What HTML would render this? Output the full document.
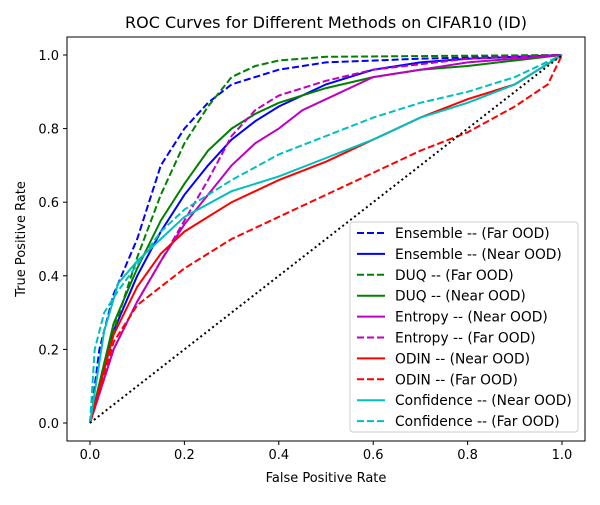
<!DOCTYPE html>
<html><head><meta charset="utf-8"><style>
body{margin:0;background:#fff}
svg text{font-family:"DejaVu Sans","Liberation Sans",sans-serif;fill:#000}
</style></head><body>
<svg id="c" width="600" height="500" xmlns="http://www.w3.org/2000/svg">
<rect width="600" height="500" fill="#fff"/>
<text x="326" y="28" font-size="16" text-anchor="middle">ROC Curves for Different Methods on CIFAR10 (ID)</text>
<g id="plot"></g>
<rect x="67" y="37" width="518" height="404" fill="none" stroke="#000" stroke-width="1"/>
<text x="326" y="482" font-size="13" text-anchor="middle">False Positive Rate</text>
<text x="25" y="239" font-size="13" text-anchor="middle" transform="rotate(-90 25 239)">True Positive Rate</text>
<g id="legend"></g>
</svg>
<script>
const xTicks=[0,0.2,0.4,0.6,0.8,1.0];
const yTicks=[0,0.2,0.4,0.6,0.8,1.0];
const tickLabels=["0.0","0.2","0.4","0.6","0.8","1.0"];
const seriesNames=["Ensemble -- (Far OOD)","Ensemble -- (Near OOD)","DUQ -- (Far OOD)","DUQ -- (Near OOD)","Entropy -- (Near OOD)","Entropy -- (Far OOD)","ODIN -- (Near OOD)","ODIN -- (Far OOD)","Confidence -- (Near OOD)","Confidence -- (Far OOD)"];
const seriesColors=["#0000ff","#0000ff","#008000","#008000","#bf00bf","#bf00bf","#ff0000","#ff0000","#00bfbf","#00bfbf"];
const seriesDashed=[true,false,true,false,false,true,false,true,false,true];
const ensFarX=[0,0.02,0.05,0.1,0.15,0.2,0.25,0.3,0.4,0.5,0.7,1];
const ensFarY=[0,0.2,0.35,0.5,0.7,0.8,0.87,0.92,0.96,0.98,0.99,1];
const ensNearX=[0,0.05,0.1,0.15,0.2,0.25,0.3,0.35,0.4,0.5,0.6,0.7,0.8,1];
const ensNearY=[0,0.25,0.4,0.52,0.62,0.7,0.77,0.82,0.86,0.92,0.96,0.98,0.99,1];
const duqFarX=[0,0.05,0.1,0.15,0.2,0.25,0.3,0.35,0.4,0.5,1];
const duqFarY=[0,0.25,0.45,0.62,0.76,0.86,0.94,0.97,0.985,0.995,1];
const duqNearX=[0,0.05,0.1,0.15,0.2,0.25,0.3,0.35,0.4,0.5,0.6,0.7,0.8,0.9,1];
const duqNearY=[0,0.27,0.42,0.55,0.65,0.74,0.8,0.84,0.87,0.91,0.94,0.96,0.97,0.985,1];
const entNearX=[0,0.05,0.1,0.15,0.2,0.25,0.3,0.35,0.4,0.45,0.5,0.6,0.7,0.8,1];
const entNearY=[0,0.2,0.33,0.44,0.54,0.62,0.7,0.76,0.8,0.85,0.88,0.94,0.96,0.98,1];
const entFarX=[0,0.05,0.1,0.15,0.2,0.25,0.3,0.35,0.4,0.5,0.6,0.8,1];
const entFarY=[0,0.2,0.33,0.44,0.55,0.66,0.78,0.85,0.89,0.93,0.96,0.99,1];
const odinNearX=[0,0.05,0.1,0.15,0.2,0.3,0.4,0.5,0.6,0.7,0.8,0.9,1];
const odinNearY=[0,0.24,0.37,0.46,0.52,0.6,0.66,0.71,0.77,0.83,0.88,0.92,1];
const odinFarX=[0,0.05,0.1,0.15,0.2,0.3,0.4,0.5,0.6,0.7,0.8,0.9,0.97,1];
const odinFarY=[0,0.22,0.32,0.37,0.42,0.5,0.56,0.62,0.68,0.74,0.79,0.86,0.92,1];
const confNearX=[0,0.03,0.06,0.1,0.15,0.2,0.3,0.4,0.5,0.6,0.7,0.8,0.9,1];
const confNearY=[0,0.25,0.38,0.44,0.5,0.56,0.63,0.67,0.72,0.77,0.83,0.87,0.92,1];
const confFarX=[0,0.01,0.03,0.06,0.1,0.15,0.2,0.3,0.4,0.5,0.6,0.7,0.8,0.9,1];
const confFarY=[0,0.2,0.3,0.36,0.43,0.52,0.58,0.66,0.73,0.78,0.83,0.87,0.9,0.94,1];
const seriesX=[ensFarX,ensNearX,duqFarX,duqNearX,entNearX,entFarX,odinNearX,odinFarX,confNearX,confFarX];
const seriesY=[ensFarY,ensNearY,duqFarY,duqNearY,entNearY,entFarY,odinNearY,odinFarY,confNearY,confFarY];
const seriesKeys=["ensemble-far","ensemble-near","duq-far","duq-near","entropy-near","entropy-far","odin-near","odin-far","confidence-near","confidence-far"];

const NS="http://www.w3.org/2000/svg";
function sx(v){return 90+v*472;}
function sy(v){return 423-v*368;}
function mk(tag,attrs,parent){const e=document.createElementNS(NS,tag);for(const k in attrs)e.setAttribute(k,attrs[k]);parent.appendChild(e);return e;}
const plot=document.getElementById('plot');
const svg=document.getElementById('c');
xTicks.forEach((t,i)=>{
  const l=mk('line',{x1:sx(t),x2:sx(t),y1:441,y2:445,stroke:'#000'},svg);
  
  
  const tx=mk('text',{x:sx(t),y:459,'font-size':13,'text-anchor':'middle'},svg);tx.textContent=tickLabels[i];
  
  
});
yTicks.forEach((t,i)=>{
  const l=mk('line',{x1:63,x2:67,y1:sy(t),y2:sy(t),stroke:'#000'},svg);
  
  
  const tx=mk('text',{x:59,y:sy(t)+5,'font-size':13,'text-anchor':'end'},svg);tx.textContent=tickLabels[i];
  
  
});
seriesX.forEach((xs,i)=>{
  const d=xs.map((x,j)=>(j?'L':'M')+sx(x).toFixed(1)+','+sy(seriesY[i][j]).toFixed(1)).join('');
  const p=mk('path',{d:d,fill:'none',stroke:seriesColors[i],'stroke-width':2,'stroke-dasharray':seriesDashed[i]?'7,3':'none'},plot);
  
  
});
const diag=mk('line',{x1:sx(0),y1:sy(0),x2:sx(1),y2:sy(1),stroke:'#000','stroke-width':2,'stroke-dasharray':'2,3'},plot);


const lg=document.getElementById('legend');
const box=mk('rect',{x:350,y:222,width:228,height:210,rx:3,fill:'#fff','fill-opacity':0.8,stroke:'#ccc'},lg);


seriesNames.forEach((n,i)=>{
  const y=233+i*20.9;
  const l=mk('line',{x1:357,x2:385,y1:y,y2:y,stroke:seriesColors[i],'stroke-width':2,'stroke-dasharray':seriesDashed[i]?'7,3':'none'},lg);
  
  
  const t=mk('text',{x:395,y:y+5,'font-size':13.8},lg);t.textContent=n;
  
  
});
</script>
</body></html>
